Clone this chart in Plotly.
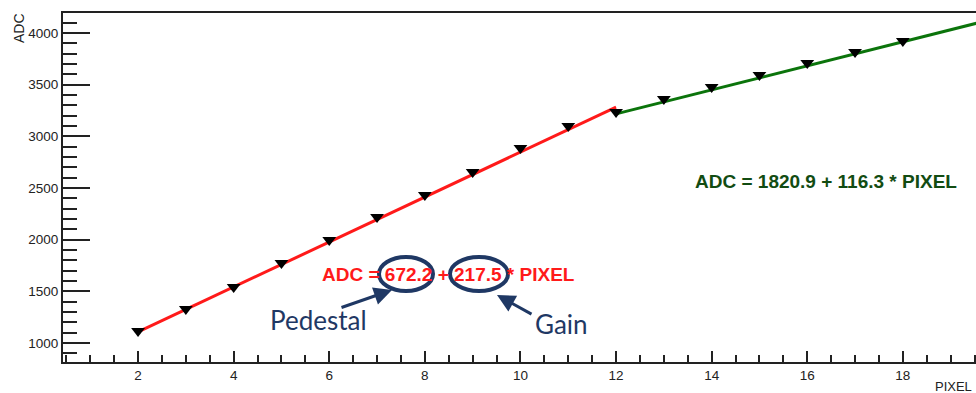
import plotly.graph_objects as go

# ---- data ----
pixel = [2, 3, 4, 5, 6, 7, 8, 9, 10, 11, 12, 13, 14, 15, 16, 17, 18]
adc = [1116, 1329, 1542, 1774, 1997, 2219, 2432, 2655, 2887, 3100,
       3235, 3361, 3477, 3594, 3710, 3816, 3923]

red_fit = {"pedestal": 672.2, "gain": 217.5, "xmin": 2, "xmax": 12}
green_fit = {"pedestal": 1820.9, "gain": 116.3, "xmin": 12, "xmax": 19.6}

x_ticks = [2, 4, 6, 8, 10, 12, 14, 16, 18]
y_ticks = [1000, 1500, 2000, 2500, 3000, 3500, 4000]

W, H = 976, 393
L, R, T, B = 63, 0, 13, 31
PW, PH = W - L - R, H - T - B


def px(x):
    return (x - L) / PW


def py(y):
    return (H - B - y) / PH


def fit_line(f):
    xs = [f["xmin"], f["xmax"]]
    return xs, [f["pedestal"] + f["gain"] * v for v in xs]


fig = go.Figure()
rx, ry = fit_line(red_fit)
gx, gy = fit_line(green_fit)
fig.add_trace(go.Scatter(x=rx, y=ry, mode="lines", line=dict(color="#ff1a1a", width=3),
                         showlegend=False, hoverinfo="skip"))
fig.add_trace(go.Scatter(x=gx, y=gy, mode="lines", line=dict(color="#0b740b", width=3),
                         showlegend=False, hoverinfo="skip"))
fig.add_trace(go.Scatter(x=pixel, y=adc, mode="markers",
                         marker=dict(symbol="triangle-down", size=12, color="black"),
                         showlegend=False))

tickfont = dict(family="Liberation Sans, Arial, sans-serif", size=13.5, color="#222")
fig.update_xaxes(range=[0.43, 19.53], tickvals=x_ticks, ticks="inside", ticklen=11,
                 tickwidth=1.5, tickcolor="#222", showline=True, linecolor="#222",
                 linewidth=2, mirror=True, showgrid=False, zeroline=False,
                 tickfont=tickfont,
                 minor=dict(dtick=0.5, tick0=0, ticks="inside", ticklen=7,
                            tickcolor="#222", tickwidth=1.5, showgrid=False))
fig.update_yaxes(range=[816, 4193], tickvals=y_ticks, ticks="inside", ticklen=27,
                 tickwidth=1.5, tickcolor="#222", showline=True, linecolor="#222",
                 linewidth=2, showgrid=False, zeroline=False, tickfont=tickfont,
                 minor=dict(dtick=100, tick0=0, ticks="inside", ticklen=14,
                            tickcolor="#222", tickwidth=1.5, showgrid=False))

navy = "#1f3864"
annos = [
    dict(x=px(19), y=py(28), text="ADC", textangle=-90, showarrow=False,
         font=dict(family="Liberation Sans, Arial", size=14, color="#222")),
    dict(x=px(974), y=py(386), text="PIXEL", showarrow=False, xanchor="right",
         font=dict(family="Liberation Sans, Arial", size=13, color="#222")),
    dict(x=px(448), y=py(274), text="<b>ADC = 672.2 + 217.5 * PIXEL</b>", showarrow=False,
         font=dict(family="Liberation Sans, Arial", size=19, color="#ff1a1a")),
    dict(x=px(826), y=py(181), text="<b>ADC = 1820.9 + 116.3 * PIXEL</b>", showarrow=False,
         font=dict(family="Liberation Sans, Arial", size=19, color="#124c12")),
    dict(x=px(318), y=py(320), text="Pedestal", showarrow=False,
         font=dict(family="Lato, sans-serif", size=26, color=navy)),
    dict(x=px(561), y=py(324), text="Gain", showarrow=False,
         font=dict(family="Lato, sans-serif", size=26, color=navy)),
    dict(x=px(392), y=py(290), ax=-52, ay=18, text="", showarrow=True,
         arrowhead=2, arrowsize=1.2, arrowwidth=3, arrowcolor=navy),
    dict(x=px(497), y=py(295), ax=36, ay=20, text="", showarrow=True,
         arrowhead=2, arrowsize=1.2, arrowwidth=3, arrowcolor=navy),
]
for a in annos:
    a.setdefault("xref", "paper")
    a.setdefault("yref", "paper")
    a.setdefault("xanchor", "center")
    a.setdefault("yanchor", "middle")
fig.update_layout(annotations=annos)

shapes = [
    dict(type="circle", xref="paper", yref="paper", x0=px(379), x1=px(433),
         y0=py(257), y1=py(291), line=dict(color=navy, width=4)),
    dict(type="circle", xref="paper", yref="paper", x0=px(450), x1=px(508),
         y0=py(257), y1=py(291), line=dict(color=navy, width=4)),
]
fig.update_layout(shapes=shapes)

fig.update_layout(width=W, height=H, margin=dict(l=L, r=R, t=T, b=B),
                  plot_bgcolor="white", paper_bgcolor="white", showlegend=False)

fig.write_html("out.html", config={"displayModeBar": False},
               post_script="document.body.style.margin='0';document.body.style.overflow='hidden';")
